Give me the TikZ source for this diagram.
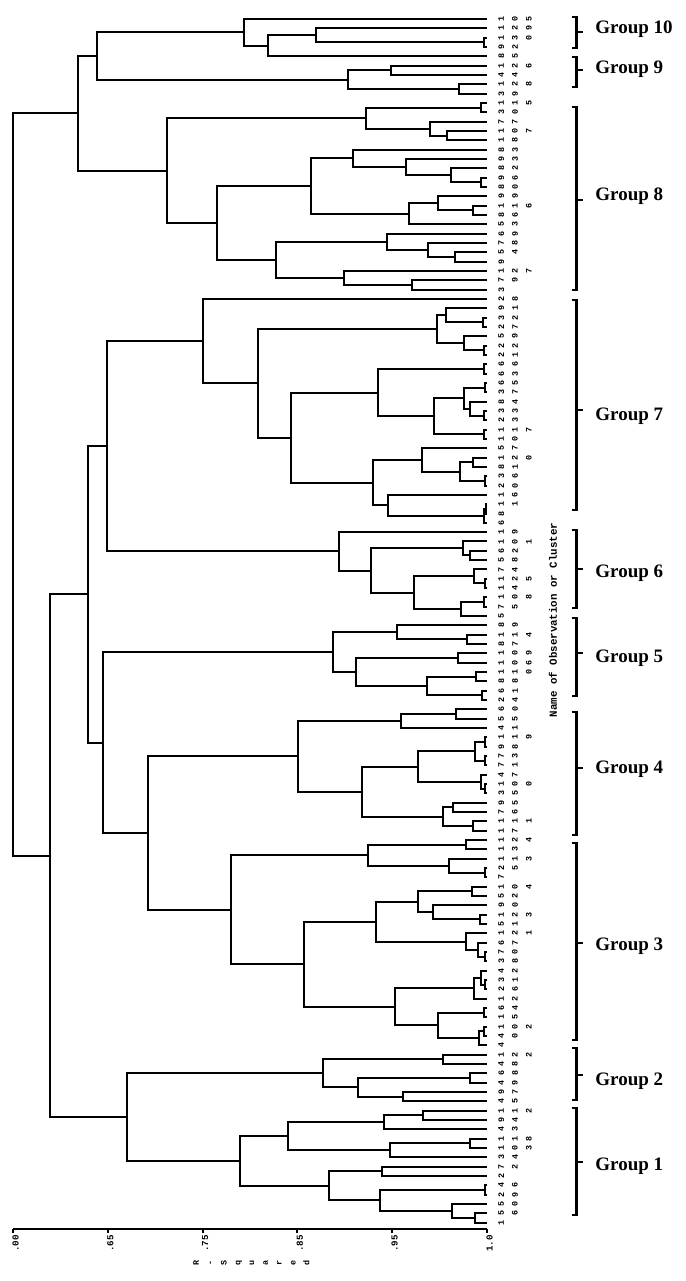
\documentclass[tikz,border=0pt]{standalone}
\usepackage{fontspec}
\setmainfont{Liberation Serif}
\newfontfamily\monof{Liberation Mono}
\usetikzlibrary{calc}
\newcommand\mrg[4]{%
  \coordinate (#1t) at ($(#2)!0.5!(#3)$);
  \coordinate (#1) at (#4,0 |- #1t);
  \draw[tree] (#2) -| (#1) |- (#3);}
\newcommand\lab[2]{\node[leaflab] (t#1) at ($(L#1)+(11,0)$) {#2};}
\newcommand\grp[6]{%
  \coordinate (#1a) at (576.5,#2);
  \coordinate (#1b) at (576.5,#3);
  \coordinate (#1m) at (576.5,#4);
  \draw[brace] ($(#1a)+(-5,0)$) -- (#1a) -- (#1b) -- ($(#1b)+(-5,0)$);
  \draw[brace] (#1m) -- ++(6.5,0);
  \node[grplab] (#1l) at (595,#6) {#5};}
\begin{document}
\begin{tikzpicture}[x=0.5pt,y=-0.5pt,
  tree/.style={line width=1pt},
  brace/.style={line width=1.25pt},
  leaflab/.style={rotate=90,anchor=north,inner sep=0pt,align=center,font=\monof\bfseries\fontsize{4.2}{6.9}\selectfont},
  axlab/.style={rotate=90,anchor=east,inner sep=0pt,font=\monof\bfseries\fontsize{4.6}{5}\selectfont},
  grplab/.style={anchor=base west,inner sep=0pt,font=\bfseries\fontsize{9.5}{11}\selectfont}]
\useasboundingbox[fill=white] (0,0) rectangle (686,1281);
\foreach \i in {1,...,130} \coordinate (L\i) at (487,{19+(\i-1)*9.33});
% Groups 10 and 9
\mrg{m1}{L3}{L4}{484}
\mrg{m2}{L2}{m1}{316}
\mrg{m3}{m2}{L5}{268}
\mrg{m4}{L1}{m3}{244}
\mrg{m5}{L6}{L7}{391}
\mrg{m6}{L8}{L9}{459}
\mrg{m7}{m5}{m6}{348}
\mrg{m8}{m4}{m7}{97}
% Group 8
\mrg{m9}{L10}{L11}{481}
\mrg{m10}{L13}{L14}{447}
\mrg{m11}{L12}{m10}{430}
\mrg{m12}{m9}{m11}{366}
\mrg{m13}{L18}{L19}{481}
\mrg{m14}{L17}{m13}{451}
\mrg{m15}{L16}{m14}{406}
\mrg{m16}{L15}{m15}{353}
\mrg{m17}{L21}{L22}{473}
\mrg{m18}{L20}{m17}{438}
\mrg{m19}{m18}{L23}{409}
\mrg{m20}{m16}{m19}{311}
\mrg{m21}{L26}{L27}{455}
\mrg{m22}{L25}{m21}{428}
\mrg{m23}{L24}{m22}{387}
\mrg{m24}{L29}{L30}{412}
\mrg{m25}{L28}{m24}{344}
\mrg{m26}{m23}{m25}{276}
\mrg{m27}{m20}{m26}{217}
\mrg{m28}{m12}{m27}{167}
\mrg{m29}{m8}{m28}{78}
% Group 7
\mrg{m30}{L33}{L34}{483}
\mrg{m31}{L32}{m30}{446}
\mrg{m32}{L36}{L37}{484}
\mrg{m33}{L35}{m32}{464}
\mrg{m34}{m31}{m33}{437}
\mrg{m35}{L38}{L39}{484}
\mrg{m36}{L40}{L41}{485}
\mrg{m37}{L43}{L44}{484}
\mrg{m38}{L42}{m37}{470}
\mrg{m39}{m36}{m38}{464}
\mrg{m40}{L45}{L46}{484}
\mrg{m41}{m39}{m40}{434}
\mrg{m42}{m35}{m41}{378}
\mrg{m43}{L48}{L49}{473}
\mrg{m44}{L50}{L51}{485}
\mrg{m45}{m43}{m44}{460}
\mrg{m46}{L47}{m45}{422}
\mrg{m47}{L53}{L54}{486}
\mrg{m48}{m47}{L55}{484}
\mrg{m49}{L52}{m48}{388}
\mrg{m50}{m46}{m49}{373}
\mrg{m51}{m42}{m50}{291}
\mrg{m52}{m34}{m51}{258}
\mrg{m53}{L31}{m52}{203}
% Group 6
\mrg{m54}{L58}{L59}{470}
\mrg{m55}{L57}{m54}{463}
\mrg{m56}{L61}{L62}{485}
\mrg{m57}{L60}{m56}{474}
\mrg{m58}{L63}{L64}{484}
\mrg{m59}{m58}{L65}{461}
\mrg{m60}{m57}{m59}{414}
\mrg{m61}{m55}{m60}{371}
\mrg{m62}{L56}{m61}{339}
\mrg{m63}{m53}{m62}{107}
% Group 5
\mrg{m64}{L67}{L68}{467}
\mrg{m65}{L66}{m64}{397}
\mrg{m66}{L69}{L70}{458}
\mrg{m67}{L71}{L72}{476}
\mrg{m68}{L73}{L74}{482}
\mrg{m69}{m67}{m68}{427}
\mrg{m70}{m66}{m69}{356}
\mrg{m71}{m65}{m70}{333}
% Group 4
\mrg{m72}{L75}{L76}{456}
\mrg{m73}{m72}{L77}{401}
\mrg{m74}{L78}{L79}{485}
\mrg{m75}{L80}{L81}{485}
\mrg{m76}{m74}{m75}{475}
\mrg{m77}{L83}{L84}{485}
\mrg{m78}{L82}{m77}{481}
\mrg{m79}{m76}{m78}{418}
\mrg{m80}{L85}{L86}{453}
\mrg{m81}{L87}{L88}{473}
\mrg{m82}{m80}{m81}{443}
\mrg{m83}{m79}{m82}{362}
\mrg{m84}{m73}{m83}{298}
% Group 3
\mrg{m85}{L89}{L90}{466}
\mrg{m86}{L92}{L93}{485}
\mrg{m87}{L91}{m86}{449}
\mrg{m88}{m85}{m87}{368}
\mrg{m89}{L94}{L95}{472}
\mrg{m90}{L97}{L98}{480}
\mrg{m91}{L96}{m90}{433}
\mrg{m92}{m89}{m91}{418}
\mrg{m93}{L101}{L102}{485}
\mrg{m94}{L100}{m93}{478}
\mrg{m95}{L99}{m94}{466}
\mrg{m96}{m92}{m95}{376}
\mrg{m97}{L104}{L105}{485}
\mrg{m98}{L103}{m97}{481}
\mrg{m99}{m98}{L106}{474}
\mrg{m100}{L107}{L108}{484}
\mrg{m101}{L109}{L110}{484}
\mrg{m102}{m101}{L111}{479}
\mrg{m103}{m100}{m102}{438}
\mrg{m104}{m99}{m103}{395}
\mrg{m105}{m96}{m104}{304}
\mrg{m106}{m88}{m105}{231}
\mrg{m107}{m84}{m106}{148}
\mrg{m108}{m71}{m107}{103}
\mrg{m109}{m63}{m108}{88}
% Group 2
\mrg{m110}{L112}{L113}{443}
\mrg{m111}{L114}{L115}{470}
\mrg{m112}{L116}{L117}{403}
\mrg{m113}{m111}{m112}{358}
\mrg{m114}{m110}{m113}{323}
% Group 1
\mrg{m115}{L118}{L119}{423}
\mrg{m116}{m115}{L120}{384}
\mrg{m117}{L121}{L122}{470}
\mrg{m118}{m117}{L123}{390}
\mrg{m119}{m116}{m118}{288}
\mrg{m120}{L124}{L125}{382}
\mrg{m121}{L126}{L127}{485}
\mrg{m122}{L129}{L130}{475}
\mrg{m123}{L128}{m122}{452}
\mrg{m124}{m121}{m123}{380}
\mrg{m125}{m120}{m124}{329}
\mrg{m126}{m119}{m125}{240}
\mrg{m127}{m114}{m126}{127}
\mrg{m128}{m109}{m127}{50}
\mrg{m129}{m29}{m128}{13}
% leaf labels
\lab{1}{1\\0\\5}\lab{2}{1\\2\\9}\lab{3}{1\\3\\0}\lab{4}{9\\2}\lab{5}{8\\5}
\lab{6}{1\\2\\6}\lab{7}{4\\4}\lab{8}{1\\2\\8}\lab{9}{3\\9}\lab{10}{1\\1\\5}
\lab{11}{3\\0}\lab{12}{7\\7}\lab{13}{1\\0\\7}\lab{14}{1\\8}\lab{15}{8\\3}
\lab{16}{9\\3}\lab{17}{8\\2}\lab{18}{9\\6}\lab{19}{8\\0}\lab{20}{9\\9}
\lab{21}{1\\1\\6}\lab{22}{8\\6}\lab{23}{5\\3}\lab{24}{6\\9}\lab{25}{7\\8}
\lab{26}{5\\4}\lab{27}{9}\lab{28}{1\\2\\7}\lab{29}{7\\9}\lab{30}{3}
\lab{31}{2\\8}\lab{32}{9\\1}\lab{33}{3\\2}\lab{34}{2\\7}\lab{35}{5\\9}
\lab{36}{2\\2}\lab{37}{2\\1}\lab{38}{6\\6}\lab{39}{6\\3}\lab{40}{6\\5}
\lab{41}{3\\7}\lab{42}{8\\4}\lab{43}{3\\3}\lab{44}{2\\3}\lab{45}{1\\1\\7}
\lab{46}{1\\0}\lab{47}{5\\7}\lab{48}{1\\2\\0}\lab{49}{8\\1}\lab{50}{3\\6}
\lab{51}{2\\0}\lab{52}{1\\6}\lab{53}{1\\1}\lab{54}{8}\lab{55}{6}
\lab{56}{1\\9}\lab{57}{1\\0\\1}\lab{58}{6\\2}\lab{59}{5\\8}\lab{60}{7\\4}
\lab{61}{1\\2\\5}\lab{62}{1\\4}\lab{63}{1\\0\\8}\lab{64}{7\\5}\lab{65}{5}
\lab{66}{8\\9}\lab{67}{1\\1\\4}\lab{68}{8\\7}\lab{69}{1\\0\\9}\lab{70}{1\\0\\6}
\lab{71}{1\\1\\0}\lab{72}{8\\8}\lab{73}{6\\1}\lab{74}{2\\4}\lab{75}{6\\0}
\lab{76}{5\\5}\lab{77}{4\\1}\lab{78}{1\\1\\9}\lab{79}{9\\8}\lab{80}{7\\3}
\lab{81}{7\\1}\lab{82}{4\\7}\lab{83}{1\\0\\0}\lab{84}{3\\5}\lab{85}{9\\5}
\lab{86}{7\\6}\lab{87}{1\\1\\1}\lab{88}{1\\7}\lab{89}{1\\2\\4}\lab{90}{1\\3}
\lab{91}{1\\1\\3}\lab{92}{2\\5}\lab{93}{7}\lab{94}{1\\0\\4}\lab{95}{5\\2}
\lab{96}{9\\0}\lab{97}{1\\2\\3}\lab{98}{5\\1}\lab{99}{1\\2\\1}\lab{100}{6\\7}
\lab{101}{7\\0}\lab{102}{3\\8}\lab{103}{4\\2}\lab{104}{3\\1}\lab{105}{2\\6}
\lab{106}{1\\2}\lab{107}{6\\4}\lab{108}{1\\5}\lab{109}{1\\0\\2}\lab{110}{4\\0}
\lab{111}{4}\lab{112}{1\\2\\2}\lab{113}{4\\8}\lab{114}{6\\8}\lab{115}{4\\9}
\lab{116}{9\\7}\lab{117}{4\\5}\lab{118}{1\\1\\2}\lab{119}{9\\4}\lab{120}{4\\3}
\lab{121}{1\\1\\8}\lab{122}{1\\0\\3}\lab{123}{3\\4}\lab{124}{7\\2}\lab{125}{2}
\lab{126}{4\\6}\lab{127}{2\\9}\lab{128}{5\\0}\lab{129}{5\\6}\lab{130}{1}
% axis
\coordinate (ax0) at (13,1229);
\coordinate (ax1) at (487,1229);
\draw[tree] (ax0) -- (ax1);
\foreach \x/\t in {13/.00,107.8/.65,202.6/.75,297.4/.85,392.2/.95,487/1.0}{
  \draw[tree] (\x,1229) -- (\x,1232.5);
  \node[axlab] at (\x+2.5,1235) {\t};}
\node[leaflab] (rsq) at (193,1263) {R\\-\\S\\q\\u\\a\\r\\e\\d};
\node[rotate=90,inner sep=0pt,font=\monof\bfseries\fontsize{5.4}{6}\selectfont] (name) at (553,620) {Name of Observation or Cluster};
% groups
\grp{g10}{17}{48}{32}{Group 10}{33}
\grp{g9}{57}{87}{70}{Group 9}{73}
\grp{g8}{107}{290}{200}{Group 8}{200}
\grp{g7}{300}{510}{410}{Group 7}{420}
\grp{g6}{530}{608}{569}{Group 6}{577}
\grp{g5}{618}{696}{653}{Group 5}{662}
\grp{g4}{712}{835}{768}{Group 4}{773}
\grp{g3}{843}{1040}{943}{Group 3}{950}
\grp{g2}{1048}{1100}{1075}{Group 2}{1085}
\grp{g1}{1108}{1215}{1162}{Group 1}{1170}
\end{tikzpicture}
\end{document}
